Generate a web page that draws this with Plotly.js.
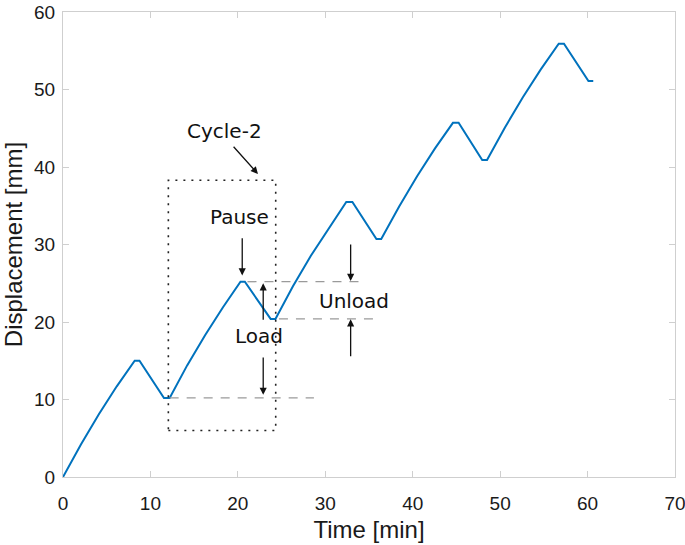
<!DOCTYPE html>
<html>
<head>
<meta charset="utf-8">
<script src="https://cdn.plot.ly/plotly-3.0.1.min.js"></script>
<style>html,body{margin:0;padding:0;background:#fff;}#chart{width:685px;height:545px;}</style>
</head>
<body>
<div id="chart"></div>
<script>
// Displacement history
const timeMin = [0, 2.05, 4.1, 6.15, 8.2, 8.75, 11.55, 12.2, 14.2, 16.25, 18.3, 20.3, 20.8, 23.75, 24.3, 26.3, 28.35, 30.4, 32.4, 33.1, 35.85, 36.4, 38.45, 40.5, 42.55, 44.6, 45.25, 47.95, 48.5, 50.55, 52.6, 54.65, 56.7, 57.3, 60.1, 60.65];
const dispMm  = [0, 4.2, 8.1, 11.7, 15.0, 15.0, 10.2, 10.2, 14.4, 18.3, 21.9, 25.2, 25.2, 20.4, 20.4, 24.6, 28.55, 32.15, 35.5, 35.5, 30.7, 30.7, 34.9, 38.8, 42.4, 45.7, 45.7, 40.9, 40.9, 45.1, 49.0, 52.6, 55.9, 55.9, 51.1, 51.1];
const xTicks = [0, 10, 20, 30, 40, 50, 60, 70];
const yTicks = [0, 10, 20, 30, 40, 50, 60];

const annFont = {family: 'DejaVu Sans, sans-serif', size: 20, color: '#111'};
function label(text, x, y) {
  return {text: text, x: x, y: y, xref: 'x', yref: 'y', showarrow: false, font: annFont, xanchor: 'center', yanchor: 'middle'};
}
function arrow(x, y, ax, ay) {
  return {text: '', x: x, y: y, ax: ax, ay: ay, xref: 'x', yref: 'y', axref: 'x', ayref: 'y',
          showarrow: true, arrowhead: 2, arrowsize: 1.1, arrowwidth: 1.3, arrowcolor: '#111', standoff: 0, startstandoff: 0};
}
const dashGray = {color: '#9a9a9a', width: 1.3, dash: '9px,8px'};
const tickFont = {family: 'Liberation Sans, Arial, sans-serif', size: 19, color: '#1a1a1a'};
const titleFont = {family: 'Liberation Sans, Arial, sans-serif', size: 24, color: '#1a1a1a'};

const layout = {
  width: 685, height: 545,
  margin: {l: 63, r: 10, t: 12, b: 68},
  paper_bgcolor: '#fff', plot_bgcolor: '#fff',
  showlegend: false,
  xaxis: {
    range: [0, 70], tickvals: xTicks, ticktext: xTicks.map(String),
    showgrid: false, zeroline: false,
    showline: true, linecolor: '#cfcfcf', linewidth: 1, mirror: 'ticks',
    ticks: 'inside', ticklen: 6, tickcolor: '#cfcfcf',
    ticklabeloverflow: 'allow', ticklabelstandoff: 9,
    tickfont: tickFont,
    title: {text: 'Time [min]', font: titleFont, standoff: 8}
  },
  yaxis: {
    range: [0, 60], tickvals: yTicks, ticktext: yTicks.map(String),
    showgrid: false, zeroline: false,
    showline: true, linecolor: '#cfcfcf', linewidth: 1, mirror: 'ticks',
    ticks: 'inside', ticklen: 6, tickcolor: '#cfcfcf',
    ticklabeloverflow: 'allow', ticklabelstandoff: 3,
    tickfont: tickFont,
    title: {text: 'Displacement [mm]', font: titleFont, standoff: 4}
  },
  shapes: [
    {type: 'rect', xref: 'x', yref: 'y', x0: 12.05, x1: 24.33, y0: 6.0, y1: 38.3,
     line: {color: '#222', width: 1.6, dash: '2px,6px'}},
    {type: 'line', xref: 'x', yref: 'y', x0: 21.1, x1: 34.5, y0: 25.2, y1: 25.2, line: dashGray},
    {type: 'line', xref: 'x', yref: 'y', x0: 24.7, x1: 35.8, y0: 20.4, y1: 20.4, line: dashGray},
    {type: 'line', xref: 'x', yref: 'y', x0: 12.2, x1: 28.7, y0: 10.2, y1: 10.2, line: dashGray}
  ],
  annotations: [
    label('Cycle-2', 18.45, 44.7),
    arrow(22.3, 39.1, 19.36, 42.8),
    label('Pause', 20.2, 33.6),
    arrow(20.5, 26.0, 20.5, 31.0),
    label('Load', 22.45, 18.2),
    arrow(22.9, 25.0, 22.9, 20.1),
    arrow(22.9, 10.6, 22.9, 15.6),
    label('Unload', 33.3, 22.7),
    arrow(32.9, 25.3, 32.9, 30.2),
    arrow(32.9, 20.35, 32.9, 15.4)
  ]
};

const traces = [{
  x: timeMin, y: dispMm, type: 'scatter', mode: 'lines',
  line: {color: '#0072BD', width: 2}, hoverinfo: 'skip'
}];

Plotly.newPlot('chart', traces, layout, {staticPlot: true, displayModeBar: false});
</script>
</body>
</html>
